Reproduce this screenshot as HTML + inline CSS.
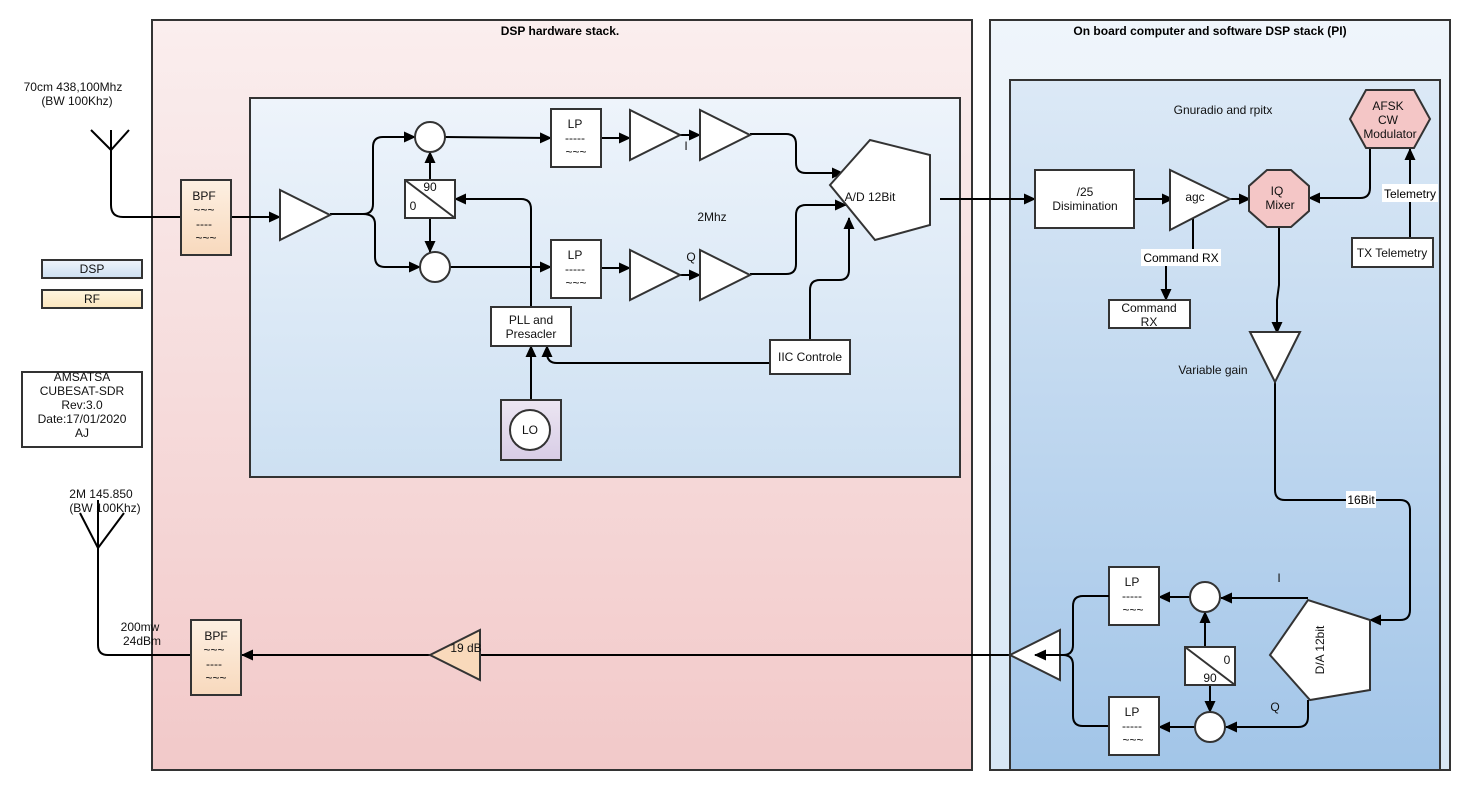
<!DOCTYPE html>
<html><head><meta charset="utf-8"><style>
body{margin:0;background:#fff}
svg{display:block;font-family:"Liberation Sans",Arial,sans-serif;font-size:12px}
</style></head><body>
<svg width="1470" height="790" viewBox="0 0 1470 790" xmlns="http://www.w3.org/2000/svg">
<defs>
<linearGradient id="red" x1="0" y1="0" x2="0" y2="1"><stop offset="0" stop-color="#faeeee"/><stop offset="1" stop-color="#f2c9c9"/></linearGradient>
<linearGradient id="lb" x1="0" y1="0" x2="0" y2="1"><stop offset="0" stop-color="#eff5fb"/><stop offset="1" stop-color="#d8e7f5"/></linearGradient>
<linearGradient id="dsp" x1="0" y1="0" x2="0" y2="1"><stop offset="0" stop-color="#eef4fb"/><stop offset="1" stop-color="#cde0f2"/></linearGradient>
<linearGradient id="gnu" x1="0" y1="0" x2="0" y2="1"><stop offset="0" stop-color="#dce9f6"/><stop offset="1" stop-color="#a2c5e8"/></linearGradient>
<linearGradient id="org" x1="0" y1="0" x2="0" y2="1"><stop offset="0" stop-color="#fdf0e2"/><stop offset="1" stop-color="#f8d9bd"/></linearGradient>
<linearGradient id="yel" x1="0" y1="0" x2="0" y2="1"><stop offset="0" stop-color="#fff5e0"/><stop offset="1" stop-color="#fbe6bd"/></linearGradient>
<linearGradient id="lo" x1="0" y1="0" x2="0" y2="1"><stop offset="0" stop-color="#ece6f2"/><stop offset="1" stop-color="#d8cde6"/></linearGradient>
<marker id="a" markerWidth="12" markerHeight="12" refX="11" refY="6" orient="auto" markerUnits="userSpaceOnUse"><path d="M0,0.5 L12,6 L0,11.5 z" fill="#000"/></marker>
</defs>
<g stroke="#333" stroke-width="2">
<rect x="152" y="20" width="820" height="750" fill="url(#red)"/>
<rect x="990" y="20" width="460" height="750" fill="url(#lb)"/>
<rect x="250" y="98" width="710" height="379" fill="url(#dsp)"/>
<rect x="1010" y="80" width="430" height="690" fill="url(#gnu)"/>
</g>
<g font-weight="bold" text-anchor="middle"><text x="560" y="35">DSP hardware stack.</text><text x="1210" y="35">On board computer and software DSP stack (PI)</text></g>

<g fill="none" stroke="#000" stroke-width="2">
<path d="M91,130 L111,150 L129,130 M111,130 V205 Q111,217 123,217 H181"/>
<path d="M231,217 H280" marker-end="url(#a)"/>
<path d="M330,214 H363 Q373,214 373,204 V147 Q373,137 383,137 H415" marker-end="url(#a)"/>
<path d="M363,214 Q375,214 375,224 V257 Q375,267 385,267 H420" marker-end="url(#a)"/>
<path d="M430,180 V152" marker-end="url(#a)"/>
<path d="M430,218 V252" marker-end="url(#a)"/>
<path d="M445,137 L551,138" marker-end="url(#a)"/>
<path d="M450,267 H551" marker-end="url(#a)"/>
<path d="M601,138 H630" marker-end="url(#a)"/>
<path d="M601,268 H630" marker-end="url(#a)"/>
<path d="M680,135 H700" marker-end="url(#a)"/>
<path d="M680,275 H700" marker-end="url(#a)"/>
<path d="M750,134 H786 Q796,134 796,144 V163 Q796,173 806,173 H843" marker-end="url(#a)"/>
<path d="M750,274 H786 Q796,274 796,264 V215 Q796,205 806,205 H846" marker-end="url(#a)"/>
<path d="M810,340 V290 Q810,280 820,280 H839 Q849,280 849,270 V218" marker-end="url(#a)"/>
<path d="M531,307 V209 Q531,199 521,199 H455" marker-end="url(#a)"/>
<path d="M531,400 V346" marker-end="url(#a)"/>
<path d="M770,363 H557 Q547,363 547,353 V346" marker-end="url(#a)"/>
<path d="M940,199 H1035" marker-end="url(#a)"/>
<path d="M1134,199 H1173" marker-end="url(#a)"/>
<path d="M1230,199 H1250" marker-end="url(#a)"/>
<path d="M1193,218 V250 M1166,265 V280"/>
<path d="M1166,280 V300" marker-end="url(#a)"/>
<path d="M1370,148 V188 Q1370,198 1360,198 H1309" marker-end="url(#a)"/>
<path d="M1410,238 V149" marker-end="url(#a)"/>
<path d="M1279,228 V285 L1277,300 V333" marker-end="url(#a)"/>
<path d="M1275,382 V490 Q1275,500 1285,500 H1400 Q1410,500 1410,510 V610 Q1410,620 1400,620 H1370" marker-end="url(#a)"/>
<path d="M1308,598 H1221" marker-end="url(#a)"/>
<path d="M1308,700 V717 Q1308,727 1298,727 H1226" marker-end="url(#a)"/>
<path d="M1205,647 V612" marker-end="url(#a)"/>
<path d="M1210,685 V712" marker-end="url(#a)"/>
<path d="M1190,597 H1159" marker-end="url(#a)"/>
<path d="M1195,727 H1159" marker-end="url(#a)"/>
<path d="M1109,726 H1083 Q1073,726 1073,716 V665 Q1073,655 1063,655"/>
<path d="M1010,655 H242" marker-end="url(#a)"/>
<path d="M191,655 H108 Q98,655 98,645 V548 M80,513 L98,548 L124,513 M98,500 V548"/>
</g>

<g stroke="#333" stroke-width="2">
<rect x="181" y="180" width="50" height="75" fill="url(#org)"/>
<rect x="191" y="620" width="50" height="75" fill="url(#org)"/>
<polygon points="280,190 280,240 330,215" fill="#fff"/>
<circle cx="430" cy="137" r="15" fill="#fff"/>
<circle cx="435" cy="267" r="15" fill="#fff"/>
<rect x="405" y="180" width="50" height="38" fill="#fff"/>
<line x1="405" y1="180" x2="455" y2="218"/>
<rect x="551" y="109" width="50" height="58" fill="#fff"/>
<rect x="551" y="240" width="50" height="58" fill="#fff"/>
<polygon points="630,110 630,160 680,135" fill="#fff"/>
<polygon points="700,110 700,160 750,135" fill="#fff"/>
<polygon points="630,250 630,300 680,275" fill="#fff"/>
<polygon points="700,250 700,300 750,275" fill="#fff"/>
<polygon points="830,185 870,140 930,155 930,225 875,240" fill="#fff"/>
<rect x="770" y="340" width="80" height="34" fill="#fff"/>
<rect x="491" y="307" width="80" height="39" fill="#fff"/>
<rect x="501" y="400" width="60" height="60" fill="url(#lo)"/>
<circle cx="530" cy="430" r="20" fill="#fff"/>
<rect x="1035" y="170" width="99" height="58" fill="#fff"/>
<polygon points="1170,170 1170,230 1230,199" fill="#fff"/>
<polygon points="1267,170 1291,170 1309,186 1309,211 1291,227 1267,227 1249,211 1249,186" fill="#f4c6c6"/>
<polygon points="1350,119 1366,90 1414,90 1430,119 1414,148 1366,148" fill="#f4c6c6"/>
<rect x="1352" y="238" width="81" height="29" fill="#fff"/>
<rect x="1109" y="300" width="81" height="28" fill="#fff"/>
<polygon points="1250,332 1300,332 1275,382" fill="#fff"/>
<polygon points="1270,655 1308,600 1370,620 1370,690 1310,700" fill="#fff"/>
<circle cx="1205" cy="597" r="15" fill="#fff"/>
<circle cx="1210" cy="727" r="15" fill="#fff"/>
<rect x="1185" y="647" width="50" height="38" fill="#fff"/>
<line x1="1185" y1="647" x2="1235" y2="685"/>
<rect x="1109" y="567" width="50" height="58" fill="#fff"/>
<rect x="1109" y="697" width="50" height="58" fill="#fff"/>
<polygon points="1010,655 1060,630 1060,680" fill="#fff"/>
<polygon points="430,655 480,630 480,680" fill="#f9d9bb"/>
<rect x="42" y="260" width="100" height="18" fill="url(#dsp)"/>
<rect x="42" y="290" width="100" height="18" fill="url(#yel)"/>
<rect x="22" y="372" width="120" height="75" fill="#fff"/>
</g>
<path d="M1109,596 H1083 Q1073,596 1073,606 V645 Q1073,655 1063,655 H1035" fill="none" stroke="#000" stroke-width="2" marker-end="url(#a)"/>

<g text-anchor="middle" fill="#111">
<text x="73" y="91">70cm 438,100Mhz</text><text x="77" y="105">(BW 100Khz)</text>
<text x="204" y="200">BPF</text><text x="204" y="214">~~~</text><text x="204" y="228">----</text><text x="206" y="242">~~~</text>
<text x="216" y="640">BPF</text><text x="214" y="654">~~~</text><text x="214" y="668">----</text><text x="216" y="682">~~~</text>
<text x="92" y="273">DSP</text><text x="92" y="303">RF</text>
<text x="82" y="381">AMSATSA</text><text x="82" y="395">CUBESAT-SDR</text><text x="82" y="409">Rev:3.0</text><text x="82" y="423">Date:17/01/2020</text><text x="82" y="437">AJ</text>
<text x="101" y="498">2M 145.850</text><text x="105" y="512">(BW 100Khz)</text>
<text x="140" y="631">200mw</text><text x="142" y="645">24dBm</text>
<text x="430" y="191">90</text><text x="413" y="210">0</text>
<text x="575" y="128">LP</text><text x="575" y="142">-----</text><text x="576" y="156">~~~</text>
<text x="575" y="259">LP</text><text x="575" y="273">-----</text><text x="576" y="287">~~~</text>
<text x="686" y="150">I</text><text x="691" y="261">Q</text>
<text x="870" y="201">A/D 12Bit</text><text x="712" y="221">2Mhz</text>
<text x="810" y="361">IIC Controle</text>
<text x="531" y="324">PLL and</text><text x="531" y="338">Presacler</text>
<text x="530" y="434">LO</text>
<text x="1223" y="114">Gnuradio and rpitx</text>
<text x="1085" y="196">/25</text><text x="1085" y="210">Disimination</text>
<text x="1195" y="201">agc</text>
<text x="1277" y="195">IQ</text><text x="1280" y="209">Mixer</text>
<text x="1388" y="110">AFSK</text><text x="1388" y="124">CW</text><text x="1390" y="138">Modulator</text>
<text x="1392" y="257">TX Telemetry</text>
<text x="1149" y="312">Command</text><text x="1149" y="326">RX</text>
<text x="1213" y="374">Variable gain</text>
<text x="1279" y="582">I</text><text x="1275" y="711">Q</text>
<text x="1227" y="664">0</text><text x="1210" y="682">90</text>
<text x="1132" y="586">LP</text><text x="1132" y="600">-----</text><text x="1133" y="614">~~~</text>
<text x="1132" y="716">LP</text><text x="1132" y="730">-----</text><text x="1133" y="744">~~~</text>
<text x="466" y="652">19 dB</text>
<text transform="translate(1324,650) rotate(-90)">D/A 12bit</text>
</g>
<g font-size="12" text-anchor="middle">
<rect x="1141" y="249" width="80" height="17" fill="#fff"/><text x="1181" y="262">Command RX</text>
<rect x="1382" y="184" width="56" height="18" fill="#fff"/><text x="1410" y="198">Telemetry</text>
<rect x="1346" y="491" width="30" height="17" fill="#fff"/><text x="1361" y="504">16Bit</text>
</g>
</svg>
</body></html>
